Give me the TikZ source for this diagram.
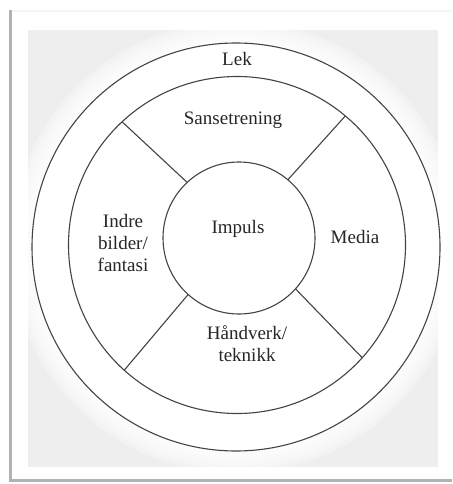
\documentclass[tikz,border=0pt]{standalone}
\usepackage{fontspec}
\setmainfont{Liberation Serif}
\definecolor{panel}{HTML}{EEEEEE}
\definecolor{ink}{HTML}{444444}
\tikzset{
  ring/.style={draw=ink,line width=1.1pt,circle,inner sep=0pt,outer sep=0pt},
  label/.style={align=center,text=black!85,font=\fontsize{19}{22}\selectfont},
  divider/.style={draw=ink,line width=1.1pt}
}
\begin{document}
\begin{tikzpicture}[x=1pt,y=-1pt]
\useasboundingbox (0,0) rectangle (452,484);
% frame and panel
\fill[white] (0,0) rectangle (452,484);
\fill[black!4] (9,10) rectangle (452,12);
\fill[black!30] (9,10) rectangle (12,482);
\fill[black!30] (9,479) rectangle (452,482);
\fill[panel] (28,30) rectangle (438,467);
\begin{scope}
\clip (28,30) rectangle (438,467);
\foreach \r in {226,222,218,214,210,206}
  \fill[white,fill opacity=0.3] (236,247) circle (\r);
\end{scope}

\node[ring,fill=white,minimum size=408pt](lek) at (236,247) {};
\node[ring,minimum size=337pt](felt) at (237,245) {};
\node[ring,minimum size=152pt](impuls) at (239,238) {};

\draw[divider] (impuls.133) -- (felt.133);
\draw[divider] (impuls.50) -- (felt.50);
\draw[divider] (impuls.228) -- (felt.228);
\draw[divider] (impuls.318) -- (felt.318);

\node[label](t1) at (237,59) {Lek};
\node[label](t2) at (233,120) {Sansetrening};
\node[label](t3) at (238,229) {Impuls};
\node[label](t4) at (355,237) {Media};
\node[label](t5) at (123,243) {Indre\\bilder/\\fantasi};
\node[label](t6) at (247,344) {Håndverk/\\teknikk};
\end{tikzpicture}
\end{document}
